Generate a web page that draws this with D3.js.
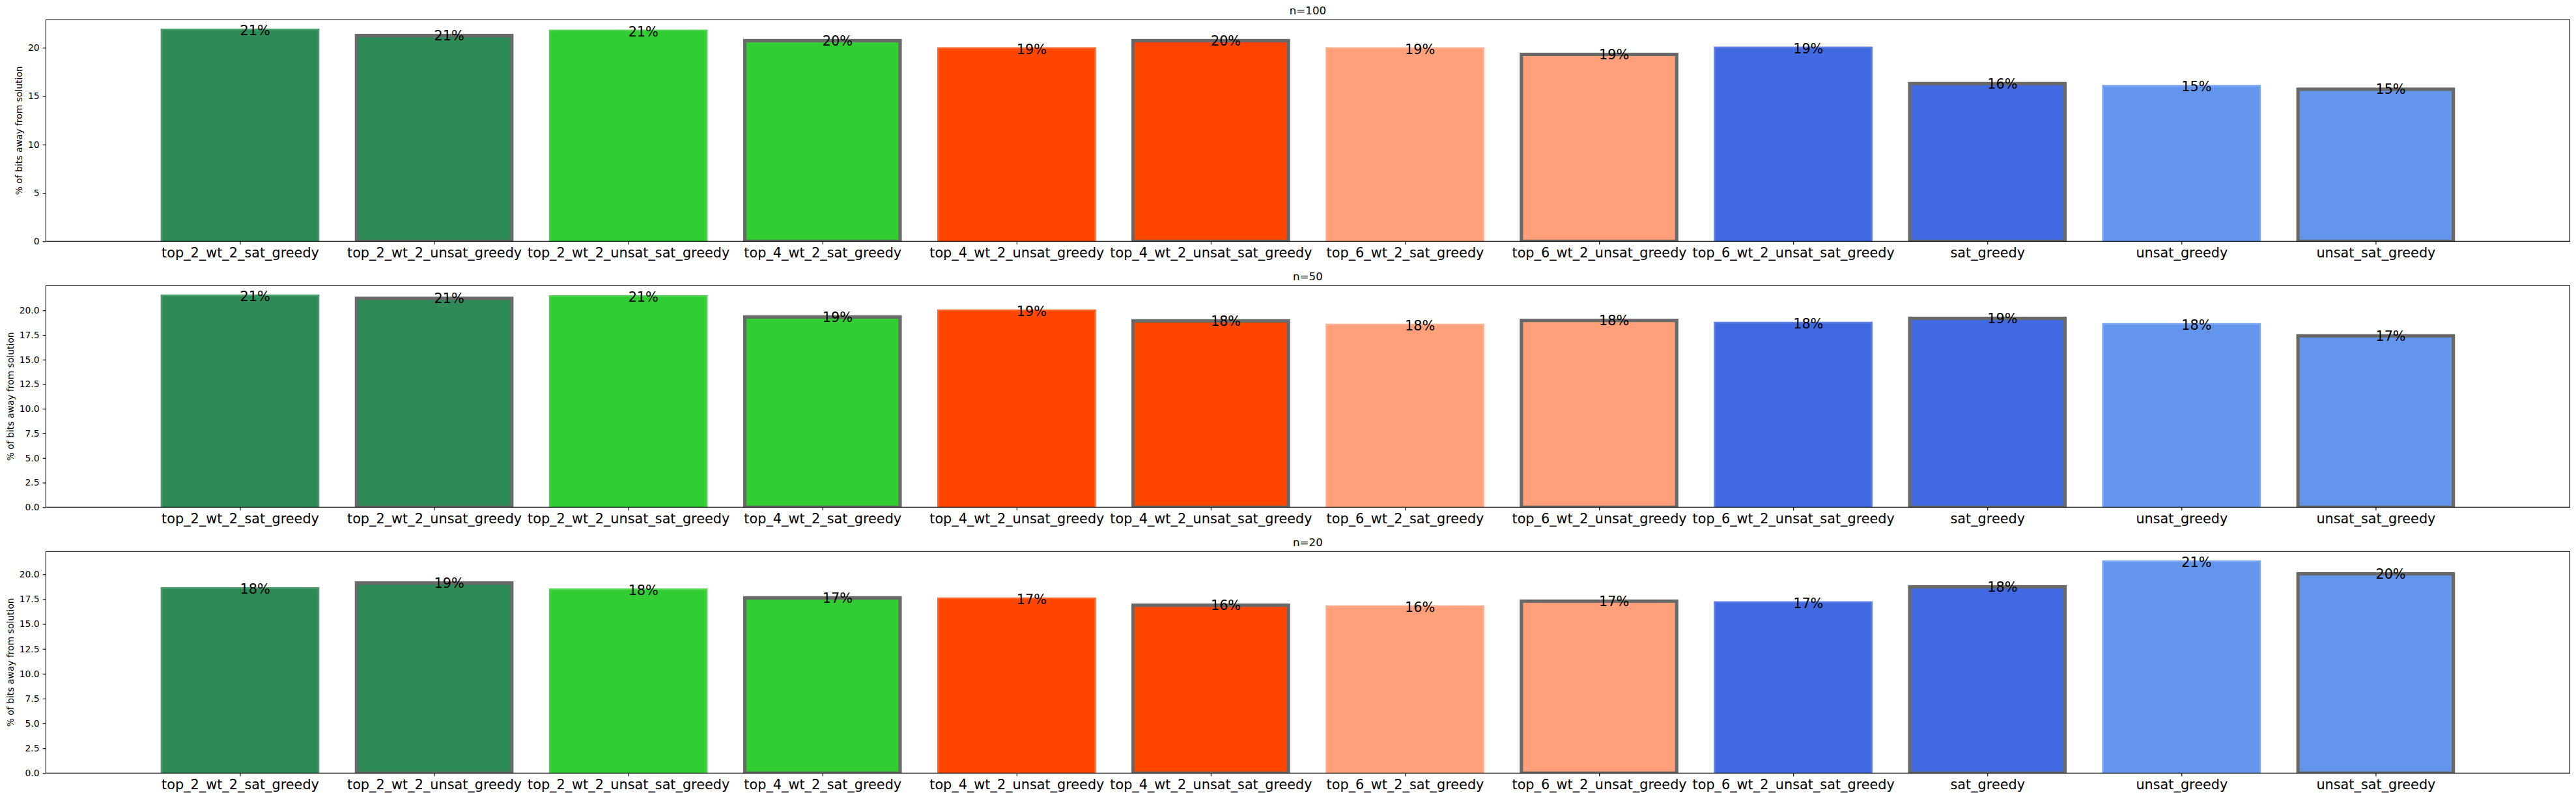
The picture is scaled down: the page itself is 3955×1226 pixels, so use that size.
<!DOCTYPE html>
<html>
<head>
<meta charset="utf-8">
<script src="https://cdn.jsdelivr.net/npm/d3@7"></script>
<style>
  body { margin: 0; background: #fff; }
  svg { display: block; font-family: "DejaVu Sans", sans-serif; }
</style>
</head>
<body>
<div id="chart"></div>
<script>
/* Data */
var categories = [
  "top_2_wt_2_sat_greedy", "top_2_wt_2_unsat_greedy", "top_2_wt_2_unsat_sat_greedy",
  "top_4_wt_2_sat_greedy", "top_4_wt_2_unsat_greedy", "top_4_wt_2_unsat_sat_greedy",
  "top_6_wt_2_sat_greedy", "top_6_wt_2_unsat_greedy", "top_6_wt_2_unsat_sat_greedy",
  "sat_greedy", "unsat_greedy", "unsat_sat_greedy"
];
var panelTitles = ["n=100", "n=50", "n=20"];

var values_n100 = [21.80, 21.26, 21.69, 20.73, 19.87, 20.73, 19.87, 19.31, 19.94, 16.29, 15.98, 15.71];
var values_n50  = [21.44, 21.22, 21.37, 19.33, 19.92, 18.93, 18.47, 18.98, 18.67, 19.19, 18.53, 17.41];
var values_n20  = [18.54, 19.13, 18.41, 17.63, 17.50, 16.89, 16.71, 17.30, 17.12, 18.74, 21.23, 20.05];

var yTicks_n100 = [0, 5, 10, 15, 20];
var yTicks_n50  = [0, 2.5, 5, 7.5, 10, 12.5, 15, 17.5, 20];
var yTicks_n20  = [0, 2.5, 5, 7.5, 10, 12.5, 15, 17.5, 20];

var yLabel = "% of bits away from solution";

/* Styling */
var barColors = ["#2e8b57", "#2e8b57", "#32cd32", "#32cd32", "#ff4500", "#ff4500",
                 "#ffa07a", "#ffa07a", "#4169e1", "#4169e1", "#6495ed", "#6495ed"];
var edged = [false, true, false, true, false, true, false, true, false, true, false, true];

var panels = [
  { title: panelTitles[0], values: values_n100, ticks: yTicks_n100, fmt: d3.format("d") },
  { title: panelTitles[1], values: values_n50,  ticks: yTicks_n50,  fmt: d3.format(".1f") },
  { title: panelTitles[2], values: values_n20,  ticks: yTicks_n20,  fmt: d3.format(".1f") }
];

var width = 3955, height = 1226;
var left = 70.4, right = 3945.5;
var tops = [30.3, 438.3, 846.3];
var panelHeight = 340;

var tickFont = 13.9, bigFont = 20.8, titleFont = 16.7;
var tickLen = 4.9, tickPad = 4.9;
var edgeWidth = 5.2;

var svg = d3.select("#chart").append("svg")
  .attr("width", width)
  .attr("height", height);

var xScale = d3.scalePoint()
  .domain(categories)
  .range([left, right])
  .padding(1);

var barWidth = xScale.step() * 0.8;

panels.forEach(function(p, pi) {
  var top = tops[pi], bottom = top + panelHeight;

  var yScale = d3.scaleLinear()
    .domain([0, d3.max(p.values) * 1.05])
    .range([bottom, top]);

  var g = svg.append("g").attr("class", "panel");

  g.append("clipPath")
    .attr("id", "clip" + pi)
    .append("rect")
    .attr("x", left).attr("y", top)
    .attr("width", right - left).attr("height", panelHeight);

  /* bars */
  var rows = categories.map(function(c, i) {
    return { name: c, value: p.values[i], color: barColors[i], edged: edged[i] };
  });

  g.append("g")
    .attr("clip-path", "url(#clip" + pi + ")")
    .selectAll("rect")
    .data(rows).enter()
    .append("rect")
    .attr("x", d => xScale(d.name) - barWidth / 2)
    .attr("y", d => yScale(d.value))
    .attr("width", barWidth)
    .attr("height", d => yScale(0) - yScale(d.value))
    .attr("fill", d => d.color)
    .attr("stroke", d => d.edged ? "#696969" : d.color)
    .attr("stroke-opacity", d => d.edged ? 1 : 0.85)
    .attr("stroke-width", edgeWidth);

  /* value labels */
  g.append("g")
    .selectAll("text")
    .data(rows).enter()
    .append("text")
    .attr("x", d => xScale(d.name))
    .attr("y", d => yScale(d.value))
    .attr("dy", "0.36em")
    .attr("font-size", bigFont)
    .attr("fill", "#000")
    .text(d => Math.floor(d.value) + "%");

  // x axis
  var xAxis = g.append("g")
    .attr("transform", `translate(0, ${bottom})`)
    .call(d3.axisBottom(xScale).tickSize(tickLen).tickPadding(tickPad));
  xAxis.select(".domain").remove();
  xAxis.selectAll("line").attr("stroke", "#000").attr("stroke-width", 1.1);
  xAxis.selectAll("text").attr("font-size", bigFont).attr("fill", "#000")
    .attr("font-family", "DejaVu Sans");

  // y axis
  var yAxis = g.append("g")
    .attr("transform", `translate(${left}, 0)`)
    .call(d3.axisLeft(yScale).tickValues(p.ticks).tickFormat(p.fmt)
      .tickSize(tickLen).tickPadding(tickPad));
  yAxis.select(".domain").remove();
  yAxis.selectAll("line").attr("stroke", "#000").attr("stroke-width", 1.1);
  yAxis.selectAll("text").attr("font-size", tickFont).attr("fill", "#000")
    .attr("font-family", "DejaVu Sans");

  var maxTickW = 0;
  yAxis.selectAll("text").each(function() {
    maxTickW = Math.max(maxTickW, this.getComputedTextLength());
  });

  // y label
  var labelX = left - tickLen - tickPad - maxTickW - 5.6 - tickFont * 0.236;
  g.append("text")
    .attr("transform", `translate(${labelX}, ${(top + bottom) / 2}) rotate(-90)`)
    .attr("text-anchor", "middle")
    .attr("font-size", tickFont)
    .attr("fill", "#000")
    .text(yLabel);

  // frame
  g.append("rect")
    .attr("x", left).attr("y", top)
    .attr("width", right - left).attr("height", panelHeight)
    .attr("fill", "none")
    .attr("stroke", "#000")
    .attr("stroke-width", 1.1);

  // title
  g.append("text")
    .attr("x", (left + right) / 2)
    .attr("y", top - 8.3)
    .attr("text-anchor", "middle")
    .attr("font-size", titleFont)
    .attr("fill", "#000")
    .text(p.title);
});
</script>
</body>
</html>
